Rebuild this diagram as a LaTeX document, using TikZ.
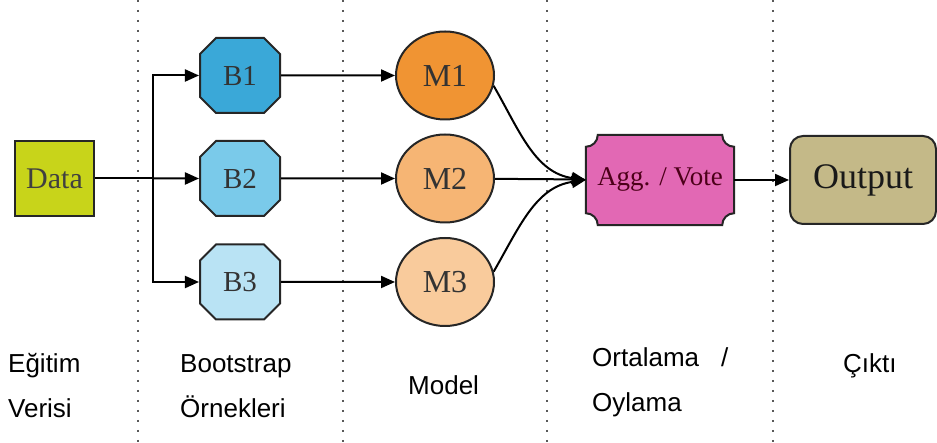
\documentclass[tikz,border=0pt]{standalone}
\usepackage{fontspec}
\usepackage{tikz}
\usetikzlibrary{arrows.meta,shapes.misc,shapes.geometric,backgrounds}
\newfontfamily\labelfont{Liberation Sans}
\newfontfamily\boxfont{Liberation Serif}
\definecolor{datacol}{HTML}{C8D41A}
\definecolor{bonecol}{HTML}{3AA8D8}
\definecolor{btwocol}{HTML}{7ACAEA}
\definecolor{bthreecol}{HTML}{B9E3F4}
\definecolor{monecol}{HTML}{F09433}
\definecolor{mtwocol}{HTML}{F6B574}
\definecolor{mthreecol}{HTML}{F9CB9C}
\definecolor{aggcol}{HTML}{E268B4}
\definecolor{outcol}{HTML}{C4B988}
\begin{document}
\begin{tikzpicture}[x=1pt,y=1pt,
  arr/.style={line width=2pt,-{Triangle[length=14pt,width=12pt]}},
  link/.style={line width=2pt},
  sep/.style={line width=2pt,black!65,dash pattern=on 2pt off 8pt},
  bootbox/.style={chamfered rectangle,chamfered rectangle xsep=8pt,chamfered rectangle ysep=8pt,draw=black!85,line width=2pt,minimum width=80pt,minimum height=75pt,inner sep=0pt,font=\boxfont\fontsize{29}{32}\selectfont,text=black!80},
  modelnode/.style={ellipse,draw=black!85,line width=2pt,minimum width=98pt,minimum height=88pt,inner sep=0pt,font=\boxfont\fontsize{32}{34}\selectfont,text=black!80},
  label/.style={anchor=base west,inner sep=0pt,font=\labelfont\fontsize{26}{30}\selectfont}]
\useasboundingbox (0,0) rectangle (937,443);
\draw [sep] (138,443) -- (138,0);
\draw [sep] (343,443) -- (343,0);
\draw [sep] (547,443) -- (547,0);
\draw [sep] (773,443) -- (773,0);
\node [draw=black!85,line width=2pt,fill=datacol,minimum width=79pt,minimum height=75pt,inner sep=0pt,font=\boxfont\fontsize{30}{32}\selectfont,text=black!75] (data) at (54.5,264.5) {Data};
\node [bootbox,fill=bonecol] (b1) at (240,367.5) {B1};
\node [bootbox,fill=btwocol] (b2) at (240,264.5) {B2};
\node [bootbox,fill=bthreecol] (b3) at (240,161) {B3};
\node [modelnode,fill=monecol] (m1) at (445,367.5) {M1};
\node [modelnode,fill=mtwocol] (m2) at (445,264.5) {M2};
\node [modelnode,fill=mthreecol] (m3) at (445,161) {M3};
\node [minimum width=148pt,minimum height=90pt,inner sep=0pt,font=\boxfont\fontsize{27}{30}\selectfont,text=black!60!purple] (agg) at (660,263) {Agg. / Vote};
\begin{pgfonlayer}{background}
\draw [line width=2pt,draw=black!85,fill=aggcol] ([yshift=-12pt]agg.north west) arc[start angle=-90,end angle=0,radius=12pt]
  -- ([xshift=-12pt]agg.north east) arc[start angle=180,end angle=270,radius=12pt]
  -- ([yshift=12pt]agg.south east) arc[start angle=90,end angle=180,radius=12pt]
  -- ([xshift=12pt]agg.south west) arc[start angle=0,end angle=90,radius=12pt] -- cycle;
\end{pgfonlayer}
\node [draw=black!85,line width=2pt,fill=outcol,rounded corners=13pt,minimum width=146pt,minimum height=88pt,inner sep=0pt,font=\boxfont\fontsize{36}{38}\selectfont,text=black!90] (out) at (863,263) {Output};
\coordinate (split) at (153,264.5);
\draw [link] (data) -- (split);
\draw [arr] (split) -- (b2);
\draw [arr] (split) |- (b1);
\draw [arr] (split) |- (b3);
\draw [arr] (b1) -- (m1);
\draw [arr] (b2) -- (m2);
\draw [arr] (b3) -- (m3);
\draw [arr] (m1.-12) to[out=-60,in=172] (agg.west);
\draw [arr] (m2) -- (agg);
\draw [arr] (m3.12) to[out=60,in=-172] (agg.west);
\draw [arr] (agg) -- (out);
\node [label] (l1a) at (8,70) {Eğitim};
\node [label] (l1b) at (8,25) {Verisi};
\node [label] (l2a) at (180,70) {Bootstrap};
\node [label] (l2b) at (180,25) {Örnekleri};
\node [label] (l3) at (408,48) {Model};
\node [label] (l4a) at (592,76) {Ortalama\hspace{22pt}/};
\node [label] (l4b) at (592,31) {Oylama};
\node [label] (l5) at (843,70) {Çıktı};
\end{tikzpicture}
\end{document}
